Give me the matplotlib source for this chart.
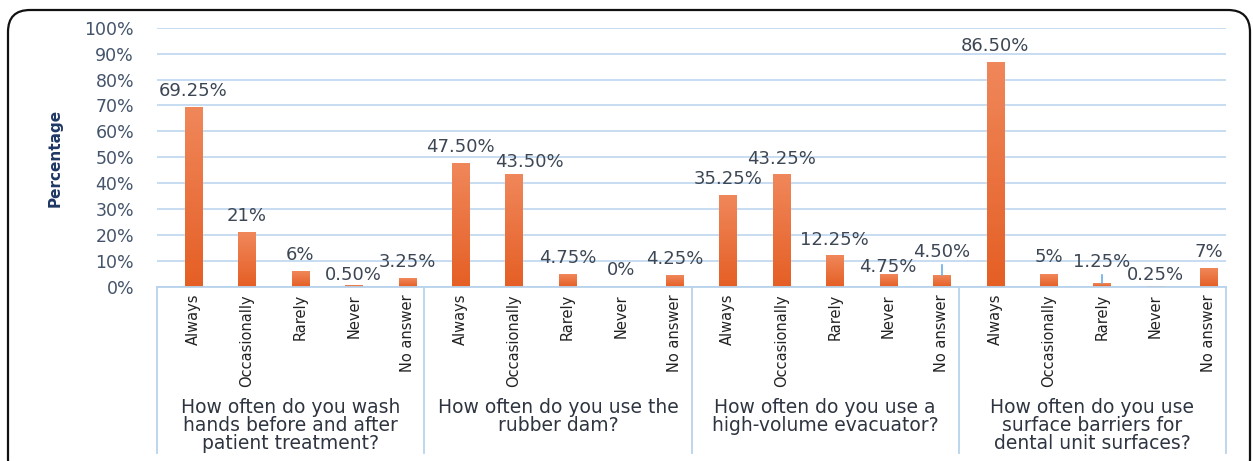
import numpy as np
import matplotlib
matplotlib.use('Agg')
import matplotlib.pyplot as plt
from matplotlib.colors import LinearSegmentedColormap
from matplotlib.patches import FancyBboxPatch
from matplotlib.transforms import IdentityTransform, blended_transform_factory

categories = ['Always', 'Occasionally', 'Rarely', 'Never', 'No answer']
questions = ['How often do you wash\nhands before and after\npatient treatment?',
             'How often do you use the\nrubber dam?',
             'How often do you use a\nhigh-volume evacuator?',
             'How often do you use\nsurface barriers for\ndental unit surfaces?']
hand_wash = [69.25, 21, 6, 0.5, 3.25]
rubber_dam = [47.5, 43.5, 4.75, 0, 4.25]
evacuator = [35.25, 43.25, 12.25, 4.75, 4.5]
barriers = [86.5, 5, 1.25, 0.25, 7]

# where the value labels sit (like the moved excel data labels)
label_y = [75.6, 27.4, 12.3, 4.6, 9.6,
           54.0, 48.2, 11.2, 6.6, 10.8,
           41.7, 49.4, 18.1, 7.7, 13.5,
           92.9, 11.6, 9.6, 4.6, 13.5]
label_dx = [0, 0, 0, 0, 0,
            0, 0.28, 0, 0, 0,
            0, 0, 0, 0, 0,
            0, 0, 0, 0, 0]
leaders = [14, 17]

values = hand_wash + rubber_dam + evacuator + barriers
x = np.arange(len(values))

W, H = 1253, 461
fig = plt.figure(figsize=(W / 100, H / 100), dpi=100)
ax = fig.add_axes([157 / W, 1 - 287 / H, (1226 - 157) / W, (287 - 27.7) / H])

bars = ax.bar(x, values, width=0.32, color='#ee7034', zorder=2)
cmap = LinearSegmentedColormap.from_list('orange', ['#e55f25', '#f0875a'])
grad = np.linspace(0, 1, 64).reshape(-1, 1)
for b in bars:
    if b.get_height() > 0:
        ax.imshow(grad, extent=[b.get_x(), b.get_x() + b.get_width(), 0, b.get_height()],
                  origin='lower', cmap=cmap, aspect='auto', zorder=2.1)

left = -0.68
ax.set_xlim(left, left + 20)
ax.set_ylim(0, 100)

ax.set_yticks(range(0, 101, 10), labels=[f'{v}%' for v in range(0, 101, 10)])
ax.yaxis.grid(True, color='#c3daf0', lw=1.3)
ax.set_axisbelow(True)
for s in ['left', 'right', 'top']:
    ax.spines[s].set_visible(False)
ax.spines['bottom'].set_color('#b8d3ec')
ax.spines['bottom'].set_linewidth(1.3)
ax.tick_params(axis='y', length=0, pad=16.5, labelsize=12.5, labelcolor='#44546a')

ax.set_xticks(x, labels=categories * 4, rotation=90)
ax.tick_params(axis='x', length=0, pad=5, labelsize=10.5, labelcolor='#222222')

trans = blended_transform_factory(ax.transData, ax.transAxes)
for k in range(5):
    s = left + 5 * k
    ax.plot([s, s], [0, -0.64], transform=trans, clip_on=False, color='#b8d3ec', lw=1.3)

for g, q in enumerate(questions):
    ax.text(left + 5 * g + 2.5, -0.43, q, transform=trans, ha='center', va='top',
            fontsize=13.5, linespacing=0.92, color='#2e3540')

for i, v in enumerate(values):
    txt = f'{v:.0f}%' if v == int(v) else f'{v:.2f}%'
    ax.text(i + label_dx[i], label_y[i], txt, ha='center', va='center',
            fontsize=13, color='#3c4654', zorder=3)
for i in leaders:
    ax.plot([i, i], [values[i] + 0.2, label_y[i] - 5], color='#6aaee8', lw=1.2, zorder=3)

fig.text(55 / W, 1 - 158 / H, 'Percentage', rotation=90, ha='center', va='center',
         fontsize=11, fontweight='bold', color='#1f3864')

frame = FancyBboxPatch((8, -20), 1242, H - 10 + 20, boxstyle='round,pad=0,rounding_size=22',
                       transform=IdentityTransform(), fill=False, lw=1.6, ec='#111111')
fig.add_artist(frame)

fig.savefig('out.png', dpi=100)
